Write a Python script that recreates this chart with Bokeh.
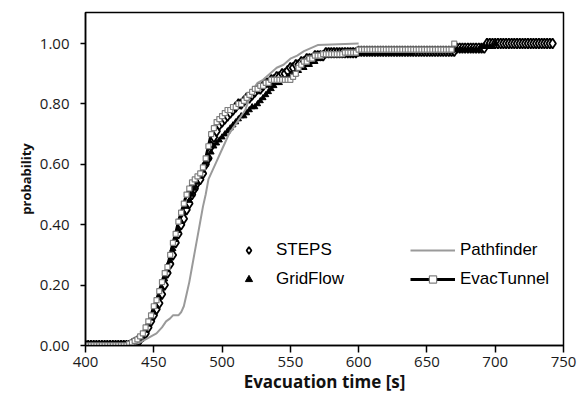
import numpy as np
from bokeh.plotting import figure
from bokeh.models import Range1d, FixedTicker, Legend, LegendItem, NumeralTickFormatter
from bokeh.embed import file_html
from bokeh.resources import INLINE

# ---------------- data ----------------
x_ticks = [400, 450, 500, 550, 600, 650, 700, 750]
y_ticks = [0.0, 0.2, 0.4, 0.6, 0.8, 1.0]

# STEPS: cumulative probability every 2 s from 400 s to 742 s
steps_t = list(range(400, 744, 2))
steps_p = [
    0, 0, 0, 0, 0, 0, 0, 0, 0, 0,
    0, 0, 0, 0, 0, 0, 0, 0.005, 0.01, 0.015,
    0.02, 0.03, 0.04, 0.06, 0.08, 0.10, 0.12, 0.14, 0.17, 0.20,
    0.24, 0.27, 0.30, 0.34, 0.37, 0.40, 0.42, 0.45, 0.47, 0.50,
    0.52, 0.54, 0.55, 0.57, 0.60, 0.62, 0.66, 0.69, 0.71, 0.73,
    0.74, 0.75, 0.76, 0.77, 0.78, 0.79, 0.80, 0.80, 0.81, 0.82,
    0.82, 0.83, 0.84, 0.85, 0.85, 0.86, 0.87, 0.87, 0.88, 0.88,
    0.89, 0.89, 0.90, 0.90, 0.91, 0.92, 0.92, 0.93, 0.93, 0.94,
    0.94, 0.95, 0.95, 0.95, 0.96, 0.96, 0.96, 0.96, 0.97, 0.97,
    0.97, 0.97, 0.97, 0.97, 0.97, 0.97, 0.97, 0.97, 0.97, 0.97,
    0.975, 0.975, 0.975, 0.975, 0.975, 0.975, 0.975, 0.975, 0.975, 0.975,
    0.975, 0.975, 0.975, 0.975, 0.975, 0.975, 0.975, 0.975, 0.975, 0.975,
    0.975, 0.975, 0.975, 0.975, 0.975, 0.975, 0.975, 0.975, 0.975, 0.975,
    0.975, 0.975, 0.975, 0.975, 0.975, 0.975, 0.985, 0.985, 0.985, 0.985,
    0.985, 0.985, 0.985, 0.985, 0.985, 0.985, 0.985, 1.0, 1.0, 1.0,
    1.0, 1.0, 1.0, 1.0, 1.0, 1.0, 1.0, 1.0, 1.0, 1.0,
    1.0, 1.0, 1.0, 1.0, 1.0, 1.0, 1.0, 1.0, 1.0, 1.0,
    1.0, 1.0,
]

# GridFlow: every 2 s from 400 s to 700 s
grid_t = list(range(400, 702, 2))
grid_p = [
    0, 0, 0, 0, 0, 0, 0, 0, 0, 0,
    0, 0, 0, 0, 0, 0, 0, 0.005, 0.01, 0.015,
    0.02, 0.03, 0.05, 0.07, 0.09, 0.11, 0.13, 0.16, 0.19, 0.22,
    0.25, 0.28, 0.32, 0.35, 0.38, 0.41, 0.44, 0.46, 0.48, 0.50,
    0.52, 0.54, 0.56, 0.58, 0.60, 0.62, 0.64, 0.66, 0.67, 0.68,
    0.69, 0.70, 0.71, 0.72, 0.73, 0.74, 0.75, 0.76, 0.76, 0.77,
    0.78, 0.79, 0.79, 0.80, 0.81, 0.82, 0.83, 0.84, 0.85, 0.86,
    0.87, 0.87, 0.88, 0.88, 0.89, 0.89, 0.90, 0.90, 0.91, 0.92,
    0.92, 0.93, 0.93, 0.94, 0.94, 0.95, 0.95, 0.96, 0.96, 0.96,
    0.96, 0.96, 0.96, 0.96, 0.96, 0.97, 0.97, 0.97, 0.97, 0.97,
    0.97, 0.97, 0.97, 0.97, 0.97, 0.97, 0.97, 0.97, 0.97, 0.97,
    0.97, 0.97, 0.97, 0.97, 0.97, 0.97, 0.97, 0.97, 0.97, 0.97,
    0.975, 0.975, 0.975, 0.975, 0.975, 0.975, 0.975, 0.975, 0.975, 0.975,
    0.975, 0.975, 0.975, 0.975, 0.975, 0.98, 0.98, 0.98, 0.98, 0.98,
    0.98, 0.98, 0.98, 0.98, 0.98, 0.99, 0.99, 0.99, 0.99, 0.99,
    1.0,
]

# Pathfinder: line
path_t = [400, 432, 436, 440, 444, 448, 452, 456, 459, 462,
          464, 468, 470, 472, 474, 476, 478, 480, 482, 484,
          486, 488, 490, 493, 496, 499, 502, 505, 508, 511,
          514, 517, 520, 523, 526, 530, 535, 540, 545, 550,
          555, 560, 565, 570, 600]
path_p = [0, 0, 0.005, 0.01, 0.02, 0.03, 0.04, 0.06, 0.08, 0.09,
          0.10, 0.10, 0.11, 0.13, 0.17, 0.21, 0.26, 0.31, 0.36, 0.41,
          0.46, 0.50, 0.55, 0.58, 0.61, 0.64, 0.67, 0.70, 0.72, 0.74,
          0.76, 0.78, 0.82, 0.85, 0.87, 0.88, 0.90, 0.92, 0.93, 0.95,
          0.96, 0.975, 0.985, 0.995, 1.0]

# EvacTunnel: every 2 s from 400 s to 670 s
evac_t = list(range(400, 672, 2))
evac_p = [
    0, 0, 0, 0, 0, 0, 0, 0, 0, 0,
    0, 0, 0, 0, 0, 0, 0.005, 0.01, 0.015, 0.02,
    0.03, 0.04, 0.06, 0.08, 0.10, 0.13, 0.15, 0.18, 0.21, 0.24,
    0.26, 0.30, 0.34, 0.37, 0.41, 0.44, 0.47, 0.50, 0.52, 0.54,
    0.55, 0.56, 0.57, 0.59, 0.62, 0.66, 0.70, 0.72, 0.74, 0.75,
    0.76, 0.77, 0.78, 0.78, 0.79, 0.79, 0.80, 0.80, 0.81, 0.82,
    0.83, 0.84, 0.85, 0.85, 0.86, 0.86, 0.87, 0.87, 0.88, 0.88,
    0.88, 0.88, 0.88, 0.88, 0.88, 0.88, 0.89, 0.90, 0.92, 0.93,
    0.94, 0.94, 0.95, 0.95, 0.96, 0.96, 0.96, 0.965, 0.965, 0.965,
    0.965, 0.965, 0.965, 0.965, 0.965, 0.97, 0.97, 0.97, 0.97, 0.97,
    0.98, 0.98, 0.98, 0.98, 0.98, 0.98, 0.98, 0.98, 0.98, 0.98,
    0.98, 0.98, 0.98, 0.98, 0.98, 0.98, 0.98, 0.98, 0.98, 0.98,
    0.98, 0.98, 0.98, 0.98, 0.98, 0.98, 0.98, 0.98, 0.98, 0.98,
    0.98, 0.98, 0.98, 0.98, 0.98, 1.0,
]

# ---------------- figure ----------------
p = figure(width=578, height=404, output_backend="svg", toolbar_location=None,
           x_range=Range1d(400, 750), y_range=Range1d(0, 1.103),
           min_border_left=85, min_border_right=15, min_border_top=12,
           min_border_bottom=59)
p.background_fill_color = "white"
p.border_fill_color = "white"
p.outline_line_color = "black"
p.outline_line_width = 1.5
p.xgrid.visible = False
p.ygrid.visible = False

TICK_FONT = "Open Sans"
for ax in (p.xaxis[0], p.yaxis[0]):
    ax.axis_line_color = "black"
    ax.axis_line_width = 1.5
    ax.major_tick_line_color = "black"
    ax.major_tick_line_width = 1.5
    ax.major_tick_in = 0
    ax.minor_tick_line_color = None
    ax.major_label_text_font = TICK_FONT
    ax.major_label_text_font_size = "15px"
    ax.major_label_text_color = "#1a1a1a"
    ax.axis_label_text_font = TICK_FONT
    ax.axis_label_text_font_style = "bold"
    ax.axis_label_text_color = "#111111"

p.xaxis.ticker = FixedTicker(ticks=x_ticks)
p.xaxis.major_tick_out = 7
p.xaxis.major_label_standoff = 4
p.xaxis.axis_label = "Evacuation time [s]"
p.xaxis.axis_label_text_font_size = "17px"
p.xaxis.axis_label_standoff = 0

p.yaxis.ticker = FixedTicker(ticks=y_ticks)
p.yaxis.formatter = NumeralTickFormatter(format="0.00")
p.yaxis.major_tick_out = 5
p.yaxis.major_label_standoff = 11
p.yaxis.axis_label = "probability"
p.yaxis.axis_label_text_font_size = "13px"
p.yaxis.axis_label_standoff = 2

# series (drawn in legend order)
r_steps = p.scatter(steps_t, steps_p, marker="diamond", size=10,
                    fill_color="white", line_color="black", line_width=1.8)
r_grid = p.scatter(grid_t, grid_p, marker="triangle", size=6,
                   fill_color="black", line_color="black", line_width=1)
r_path = p.line(path_t, path_p, line_color="#9a9a9a", line_width=2)
r_evac_l = p.line(evac_t, evac_p, line_color="black", line_width=3)
r_evac_m = p.scatter(evac_t, evac_p, marker="square", size=5,
                     fill_color="white", line_color="#808080", line_width=1.2)

legend = Legend(
    items=[
        LegendItem(label="STEPS", renderers=[r_steps]),
        LegendItem(label="GridFlow", renderers=[r_grid]),
        LegendItem(label="Pathfinder", renderers=[r_path]),
        LegendItem(label="EvacTunnel", renderers=[r_evac_l, r_evac_m]),
    ],
    location=(141, 56), orientation="vertical", nrows=2,
    glyph_width=45, glyph_height=18, label_height=18, label_width=125,
    label_standoff=5, spacing=9, padding=0, margin=0,
    label_text_font="Liberation Sans", label_text_font_size="17px",
    label_text_color="black",
    border_line_alpha=0, background_fill_alpha=0,
)
p.add_layout(legend)

open("out.html", "w").write(file_html(p, INLINE))
